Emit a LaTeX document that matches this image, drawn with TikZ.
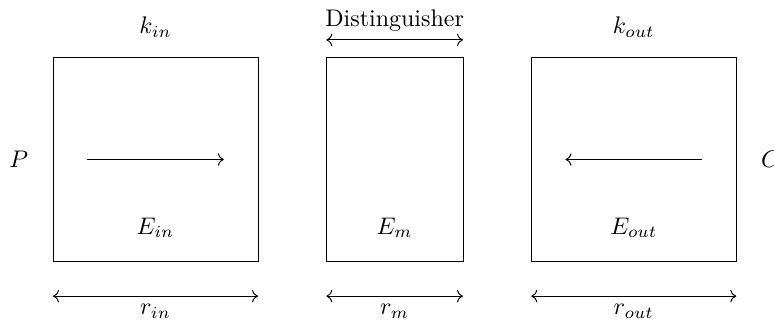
\documentclass[tikz,border=0pt]{standalone}
\usepackage{tikz}
\usetikzlibrary{arrows.meta, positioning, calc}

\begin{document}
\begin{tikzpicture}[
  stage/.style={rectangle, draw, outer sep=0pt, minimum height=3cm},
  arr/.style={->},
  span/.style={<->},
  lbl/.style={font=\normalsize},
]

\clip (-0.776,-0.849) rectangle (10.552,3.834);

\node[stage, minimum width=3cm] (bin) at (1.5,1.5) {};
\node[stage, minimum width=2cm] (bm) at (5,1.5) {};
\node[stage, minimum width=3cm] (bout) at (8.5,1.5) {};

\node[lbl] (ein) at (1.5,0.5) {$E_{in}$};
\node[lbl] (em) at (5,0.5) {$E_m$};
\node[lbl] (eout) at (8.5,0.5) {$E_{out}$};

\node[lbl] (kin) at (1.5,3.44) {$k_{in}$};
\node[lbl] (kout) at (8.5,3.44) {$k_{out}$};

\node[lbl] (p) at (-0.5,1.5) {$P$};
\node[lbl] (c) at (10.5,1.5) {$C$};

\coordinate (ina) at (0.5,1.5);
\coordinate (inb) at (2.5,1.5);
\coordinate (outa) at (9.5,1.5);
\coordinate (outb) at (7.5,1.5);

\draw[arr] (ina) -- (inb);
\draw[arr] (outa) -- (outb);

\draw[span] ([yshift=0.25cm]bm.north west) -- node[lbl, above] {Distinguisher} ([yshift=0.25cm]bm.north east);

\draw[span] ([yshift=-0.5cm]bin.south west) -- node[lbl, below] {$r_{in}$} ([yshift=-0.5cm]bin.south east);
\draw[span] ([yshift=-0.5cm]bm.south west) -- node[lbl, below] {$r_m$} ([yshift=-0.5cm]bm.south east);
\draw[span] ([yshift=-0.5cm]bout.south west) -- node[lbl, below] {$r_{out}$} ([yshift=-0.5cm]bout.south east);

\end{tikzpicture}
\end{document}
